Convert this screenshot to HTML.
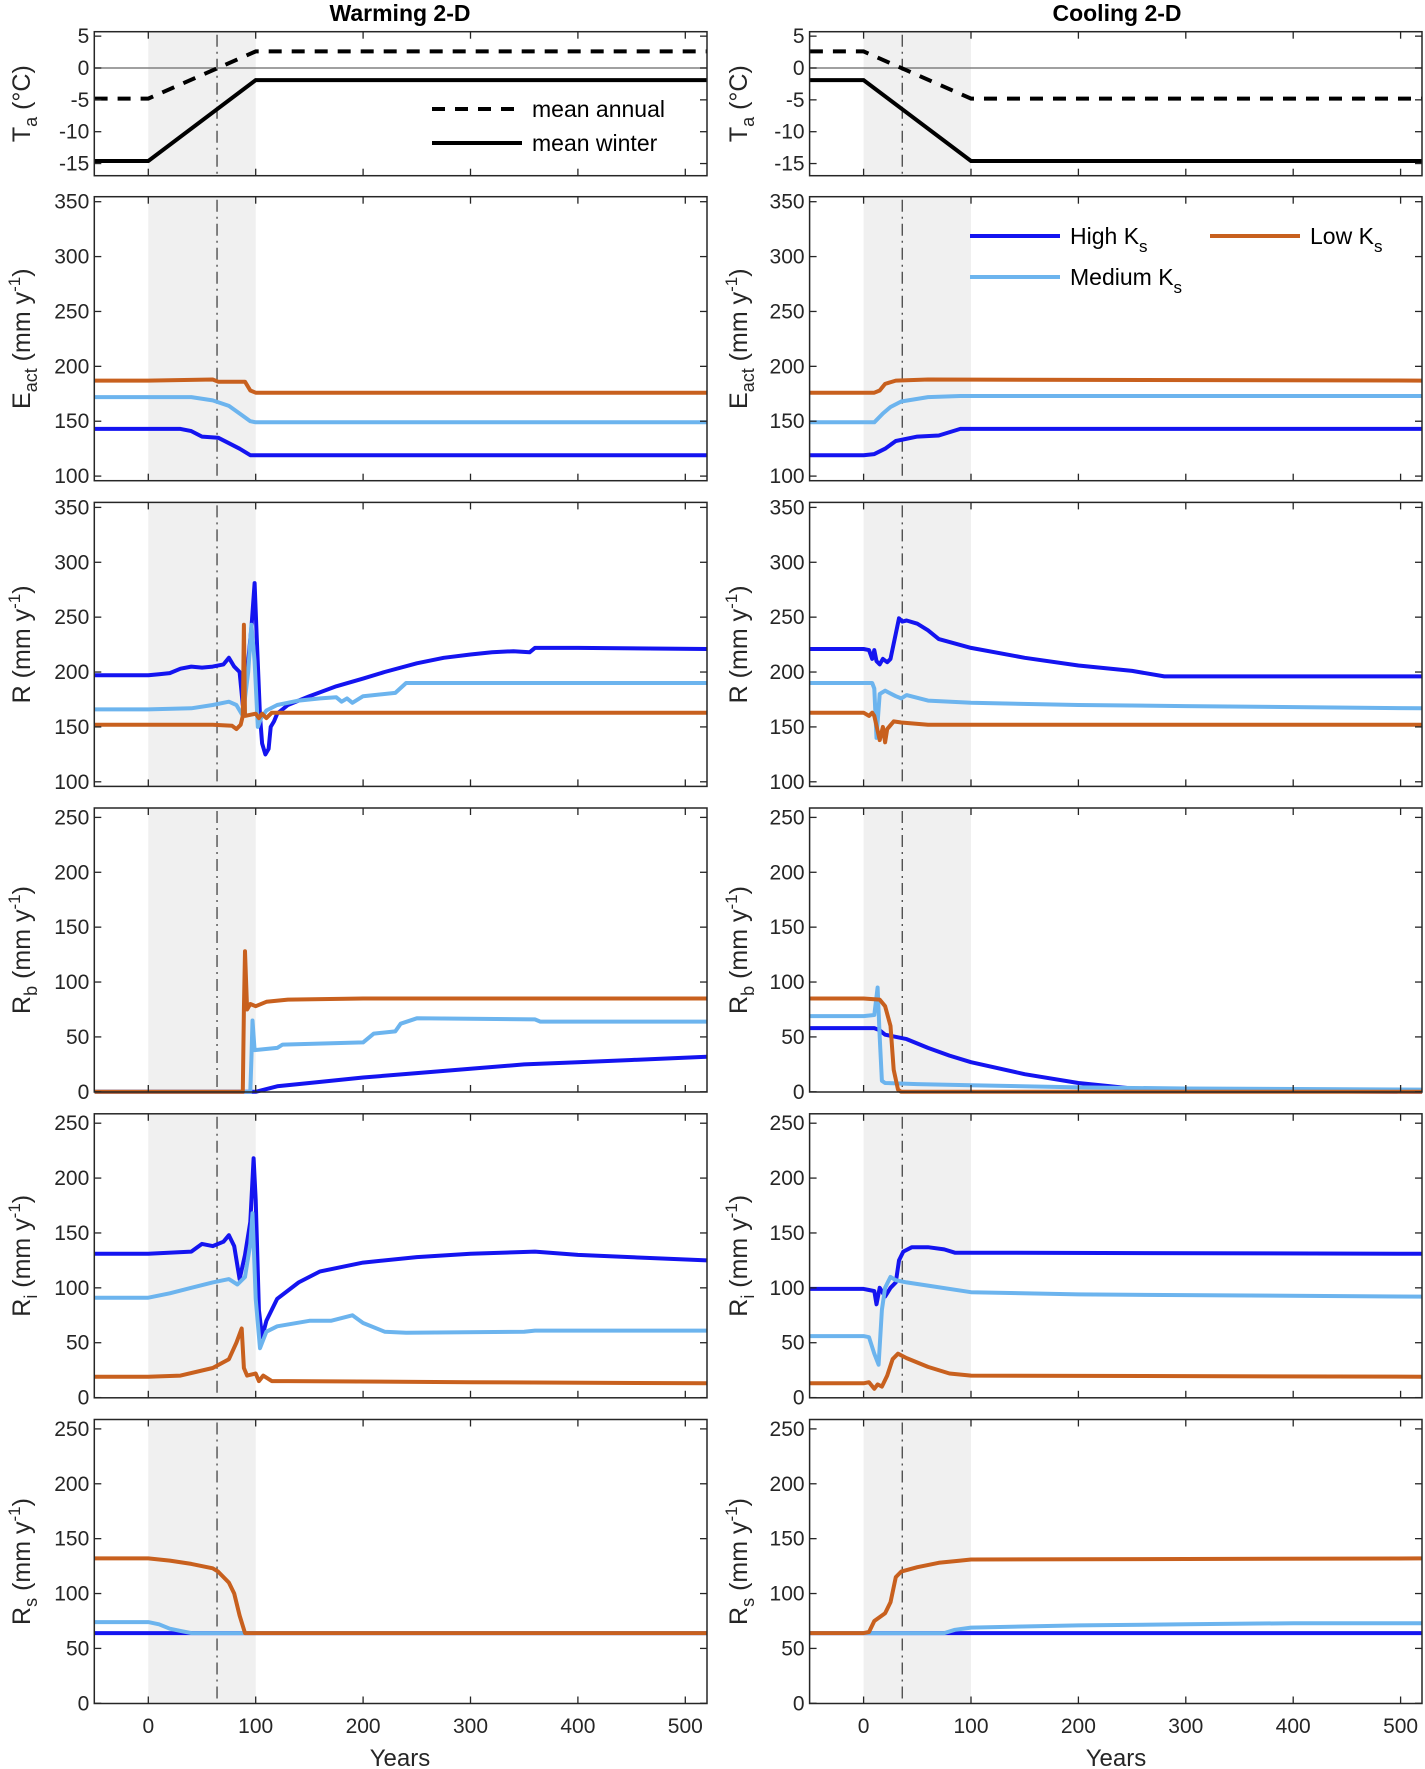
<!DOCTYPE html>
<html><head><meta charset="utf-8">
<style>
html,body{margin:0;padding:0;background:#fff;}
svg{display:block;font-family:"Liberation Sans",Arial,sans-serif;}
</style></head>
<body>
<svg id="fig" width="1425" height="1769" viewBox="0 0 1425 1769" xmlns="http://www.w3.org/2000/svg"></svg>
<script>
// ---------- data (year, value) ----------
const taAnnualWarm = [[-50,-4.8],[0,-4.8],[100,2.6],[520,2.6]];
const taWinterWarm = [[-50,-14.6],[0,-14.6],[100,-1.9],[520,-1.9]];
const taAnnualCool = [[-50,2.6],[0,2.6],[100,-4.8],[520,-4.8]];
const taWinterCool = [[-50,-1.9],[0,-1.9],[100,-14.6],[520,-14.6]];

const eactHighWarm = [[-50,143],[30,143],[40,141],[50,136],[65,135],[75,130],[85,125],[95,119],[100,119],[520,119]];
const eactMedWarm = [[-50,172],[40,172],[60,169],[75,164],[85,157],[95,150],[100,149],[520,149]];
const eactLowWarm = [[-50,187],[0,187],[60,188],[65,186],[90,186],[95,178],[100,176],[520,176]];
const eactHighCool = [[-50,119],[0,119],[10,120],[20,125],[30,132],[50,136],[70,137],[90,143],[100,143],[520,143]];
const eactMedCool = [[-50,149],[0,149],[10,149],[18,157],[25,163],[35,168],[60,172],[90,173],[520,173]];
const eactLowCool = [[-50,176],[0,176],[10,176],[15,178],[20,184],[30,187],[60,188],[520,187]];

const rHighWarm = [[-50,197],[0,197],[10,198],[20,199],[30,203],[40,205],[50,204],[60,205],[70,207],[75,213],[80,205],[85,200],[88,170],[90,200],[93,210],[96,240],[99,281],[101,230],[104,160],[106,135],[109,125],[112,130],[114,150],[117,155],[120,162],[130,170],[150,178],[175,187],[200,194],[220,200],[250,208],[275,213],[300,216],[320,218],[340,219],[355,218],[360,222],[400,222],[520,221]];
const rMedWarm = [[-50,166],[0,166],[40,167],[60,170],[75,173],[82,170],[88,160],[93,200],[96,243],[99,210],[102,150],[105,158],[110,165],[120,170],[140,174],[160,176],[175,177],[180,173],[185,176],[190,172],[200,178],[230,181],[240,190],[520,190]];
const rLowWarm = [[-50,152],[0,152],[60,152],[78,151],[82,148],[86,152],[88,160],[89,243],[90,160],[100,162],[103,158],[106,162],[110,158],[115,163],[520,163]];
const rHighCool = [[-50,221],[0,221],[5,220],[8,212],[10,220],[12,210],[15,207],[18,212],[22,209],[25,212],[30,235],[33,249],[36,246],[40,247],[50,244],[60,238],[70,230],[100,222],[150,213],[200,206],[250,201],[280,196],[520,196]];
const rMedCool = [[-50,190],[0,190],[8,190],[10,185],[12,140],[15,180],[20,183],[30,178],[35,176],[40,179],[60,174],[100,172],[200,170],[300,169],[520,167]];
const rLowCool = [[-50,163],[0,163],[5,160],[8,163],[10,160],[15,138],[18,150],[20,136],[22,148],[28,155],[35,154],[60,152],[520,152]];

const rbHighWarm = [[-50,0],[100,0],[120,5],[150,8],[200,13],[250,17],[300,21],[350,25],[400,27],[450,29],[520,32]];
const rbMedWarm = [[-50,0],[95,0],[96,30],[97,65],[99,38],[120,40],[125,43],[200,45],[210,53],[230,55],[235,62],[250,67],[360,66],[365,64],[520,64]];
const rbLowWarm = [[-50,0],[88,0],[89,75],[90,128],[92,75],[95,80],[100,78],[110,82],[130,84],[200,85],[520,85]];
const rbHighCool = [[-50,58],[0,58],[10,58],[15,56],[20,52],[40,48],[60,40],[80,33],[100,27],[150,16],[200,8],[250,3],[300,1],[520,0]];
const rbMedCool = [[-50,69],[0,69],[10,70],[13,95],[15,50],[17,10],[20,8],[50,7],[100,6],[200,4],[300,3],[520,2]];
const rbLowCool = [[-50,85],[0,85],[15,84],[20,78],[25,60],[28,20],[32,2],[35,0],[520,0]];

const riHighWarm = [[-50,131],[0,131],[40,133],[50,140],[60,138],[70,142],[75,148],[80,138],[85,108],[90,130],[95,160],[98,218],[100,180],[103,80],[106,55],[110,70],[120,90],[140,105],[160,115],[200,123],[250,128],[300,131],[360,133],[400,130],[520,125]];
const riMedWarm = [[-50,91],[0,91],[20,95],[40,100],[60,105],[75,108],[83,103],[90,110],[95,140],[97,168],[100,90],[104,45],[110,60],[120,65],[150,70],[170,70],[190,75],[200,68],[220,60],[240,59],[350,60],[360,61],[520,61]];
const riLowWarm = [[-50,19],[0,19],[30,20],[60,27],[75,35],[82,50],[87,63],[89,27],[92,20],[100,22],[103,15],[107,20],[115,15],[130,15],[300,14],[520,13]];
const riHighCool = [[-50,99],[0,99],[5,98],[10,97],[12,85],[15,100],[20,92],[25,100],[30,105],[33,125],[37,133],[45,137],[60,137],[75,135],[85,132],[100,132],[520,131]];
const riMedCool = [[-50,56],[0,56],[5,55],[10,40],[14,30],[17,80],[20,100],[25,110],[30,107],[40,105],[60,102],[100,96],[200,94],[520,92]];
const riLowCool = [[-50,13],[0,13],[5,14],[10,8],[13,12],[17,10],[22,20],[27,35],[32,40],[40,36],[60,28],[80,22],[100,20],[520,19]];

const rsHighWarm = [[-50,64],[520,64]];
const rsMedWarm = [[-50,74],[0,74],[10,72],[20,68],[30,66],[40,64],[520,64]];
const rsLowWarm = [[-50,132],[0,132],[20,130],[40,127],[60,123],[65,120],[75,110],[80,100],[85,80],[90,64],[520,64]];
const rsHighCool = [[-50,64],[520,64]];
const rsMedCool = [[-50,64],[75,64],[85,67],[100,69],[200,71],[300,72],[400,73],[520,73]];
const rsLowCool = [[-50,64],[0,64],[5,65],[10,75],[20,82],[25,92],[30,115],[35,120],[50,124],[70,128],[90,130],[100,131],[520,132]];

const xTicks = [0,100,200,300,400,500];
const taTicks = [5,0,-5,-10,-15];
const flowTicks = [100,150,200,250,300,350];
const compTicks = [0,50,100,150,200,250];
const markerYears = [64,36];

// ---------- layout ----------
const NS = "http://www.w3.org/2000/svg";
const svg = document.getElementById('fig');
const colX0 = [148.3, 863.6];   // pixel of year 0
const colL = [94.3, 809.6], colR = [707, 1422];
const PXYR = 1.074;
const tops = [31.7,196.7,502.4,808,1113.8,1419.5];
const C = {high:'#1414f0', med:'#6cb4ee', low:'#c8601e'};
function el(tag, attrs, parent){const e=document.createElementNS(NS,tag);for(const k in attrs)e.setAttribute(k,attrs[k]);(parent||svg).appendChild(e);return e;}
function xs(col, yr){return colX0[col]+yr*PXYR;}

const panels = [
 {kind:'ta', label:['T','a',' (°C)'], ticks:taTicks},
 {kind:'flow', label:['E','act',' (mm y','-1',')'], ticks:flowTicks, series:[[eactHighWarm,eactMedWarm,eactLowWarm],[eactHighCool,eactMedCool,eactLowCool]]},
 {kind:'flow', label:['R','',' (mm y','-1',')'], ticks:flowTicks, series:[[rHighWarm,rMedWarm,rLowWarm],[rHighCool,rMedCool,rLowCool]]},
 {kind:'comp', label:['R','b',' (mm y','-1',')'], ticks:compTicks, series:[[rbHighWarm,rbMedWarm,rbLowWarm],[rbHighCool,rbMedCool,rbLowCool]]},
 {kind:'comp', label:['R','i',' (mm y','-1',')'], ticks:compTicks, series:[[riHighWarm,riMedWarm,riLowWarm],[riHighCool,riMedCool,riLowCool]]},
 {kind:'comp', label:['R','s',' (mm y','-1',')'], ticks:compTicks, series:[[rsHighWarm,rsMedWarm,rsLowWarm],[rsHighCool,rsMedCool,rsLowCool]]}
];
const names=['temperature','eact','runoff','rb','ri','rs'];

function ymap(p, i, v){
  const t=tops[i];
  if(p.kind==='ta') return 68 - v*6.37;
  if(p.kind==='flow') return t+5+(350-v)*1.0976;
  return t+283.8 - v*1.0976;
}
function pathFrom(col, p, i, data){
  return data.map((d,k)=>(k?'L':'M')+xs(col,d[0]).toFixed(1)+' '+ymap(p,i,d[1]).toFixed(1)).join(' ');
}

panels.forEach((p,i)=>{
  const t=tops[i], h=(i===0?144:284), b=t+h;
  for(let col=0;col<2;col++){
    const g=el('g',{});
    
    
    const L=colL[col], R=colR[col];
    // shade
    const sh=el('rect',{x:xs(col,0),y:t,width:xs(col,100)-xs(col,0),height:h,fill:'#f0f0f0'},g);
    
    
    // marker line
    const mx=xs(col,markerYears[col]);
    const ml=el('line',{x1:mx,x2:mx,y1:t+3,y2:b,stroke:'#444',"stroke-width":1.3,"stroke-dasharray":"12 5 2 5"},g);
    
    
    if(p.kind==='ta'){
      const z=el('line',{x1:L,x2:R,y1:ymap(p,i,0),y2:ymap(p,i,0),stroke:'#808080',"stroke-width":1.5},g);
      
      
      const an=el('path',{d:pathFrom(col,p,i,col?taAnnualCool:taAnnualWarm),fill:'none',stroke:'#000',"stroke-width":4,"stroke-dasharray":"13 10"},g);
      
      
      const wi=el('path',{d:pathFrom(col,p,i,col?taWinterCool:taWinterWarm),fill:'none',stroke:'#000',"stroke-width":4},g);
      
      
    } else {
      const s=p.series[col];
      const order=[[0,'high'],[1,'med'],[2,'low']];
      order.forEach(([k,c])=>{
        const ln=el('path',{d:pathFrom(col,p,i,s[k]),fill:'none',stroke:C[c],"stroke-width":4,"stroke-linejoin":"round"},g);
        
        
      });
    }
    // box
    const bx=el('rect',{x:L,y:t,width:R-L,height:h,fill:'none',stroke:'#262626',"stroke-width":1.5},g);
    
    
    // x ticks
    xTicks.forEach(v=>{
      const x=xs(col,v);
      el('line',{x1:x,x2:x,y1:b,y2:b-7,stroke:'#262626',"stroke-width":1.3},g);
      el('line',{x1:x,x2:x,y1:t,y2:t+7,stroke:'#262626',"stroke-width":1.3},g);
      if(i===5){
        const tx=el('text',{x:x,y:1733,"font-size":21,fill:'#262626',"text-anchor":'middle'},g);
        tx.textContent=v;
        
        
      }
    });
    // y ticks
    p.ticks.forEach(v=>{
      const y=ymap(p,i,v);
      el('line',{x1:L,x2:L+7,y1:y,y2:y,stroke:'#262626',"stroke-width":1.3},g);
      el('line',{x1:R,x2:R-7,y1:y,y2:y,stroke:'#262626',"stroke-width":1.3},g);
      const tx=el('text',{x:L-5,y:y+7,"font-size":21,fill:'#262626',"text-anchor":'end'},g);
      tx.textContent=v;
      
      
    });
    // y label
    const cx=(col?747:30), cy=t+h/2;
    const yl=el('text',{transform:`translate(${cx},${cy}) rotate(-90)`,"font-size":25,fill:'#262626',"text-anchor":'middle'},g);
    
    
    const lb=p.label;
    let sp=el('tspan',{},yl); sp.textContent=lb[0];
    if(lb[1]){sp=el('tspan',{"font-size":18,dy:7},yl); sp.textContent=lb[1]; sp=el('tspan',{dy:-7},yl); sp.textContent=lb[2];}
    else {sp=el('tspan',{},yl); sp.textContent=lb[2];}
    if(lb[3]){sp=el('tspan',{"font-size":17,dy:-10},yl); sp.textContent=lb[3]; sp=el('tspan',{dy:10},yl); sp.textContent=lb[4];}
  }
});

// titles and x labels
[['Warming 2-D',400],['Cooling 2-D',1117]].forEach(([s,x],k)=>{
  const tt=el('text',{x:x,y:21,"font-size":23,"font-weight":'bold',fill:'#000',"text-anchor":'middle'});
  tt.textContent=s;
  
  
  const xl=el('text',{x:k?1116:400,y:1766,"font-size":24,fill:'#262626',"text-anchor":'middle'});
  xl.textContent='Years';
  
  
});

// legend: temperature
const lg1=el('g',{});


el('line',{x1:432,x2:522,y1:109,y2:109,stroke:'#000',"stroke-width":4,"stroke-dasharray":"13 10"},lg1);
el('line',{x1:432,x2:522,y1:143,y2:143,stroke:'#000',"stroke-width":4},lg1);
let t1=el('text',{x:532,y:117,"font-size":23,fill:'#000'},lg1); t1.textContent='mean annual';


let t2=el('text',{x:532,y:151,"font-size":23,fill:'#000'},lg1); t2.textContent='mean winter';



// legend: Ks
const lg2=el('g',{});


[['High K','high',970,236],['Low K','low',1210,236],['Medium K','med',970,277]].forEach(([s,c,x,y])=>{
  el('line',{x1:x,x2:x+90,y1:y,y2:y,stroke:C[c],"stroke-width":4},lg2);
  const tx=el('text',{x:x+100,y:y+8,"font-size":23,fill:'#000'},lg2);
  
  
  let a=el('tspan',{},tx); a.textContent=s;
  let b=el('tspan',{"font-size":17,dy:8},tx); b.textContent='s';
});
</script>
</body></html>
